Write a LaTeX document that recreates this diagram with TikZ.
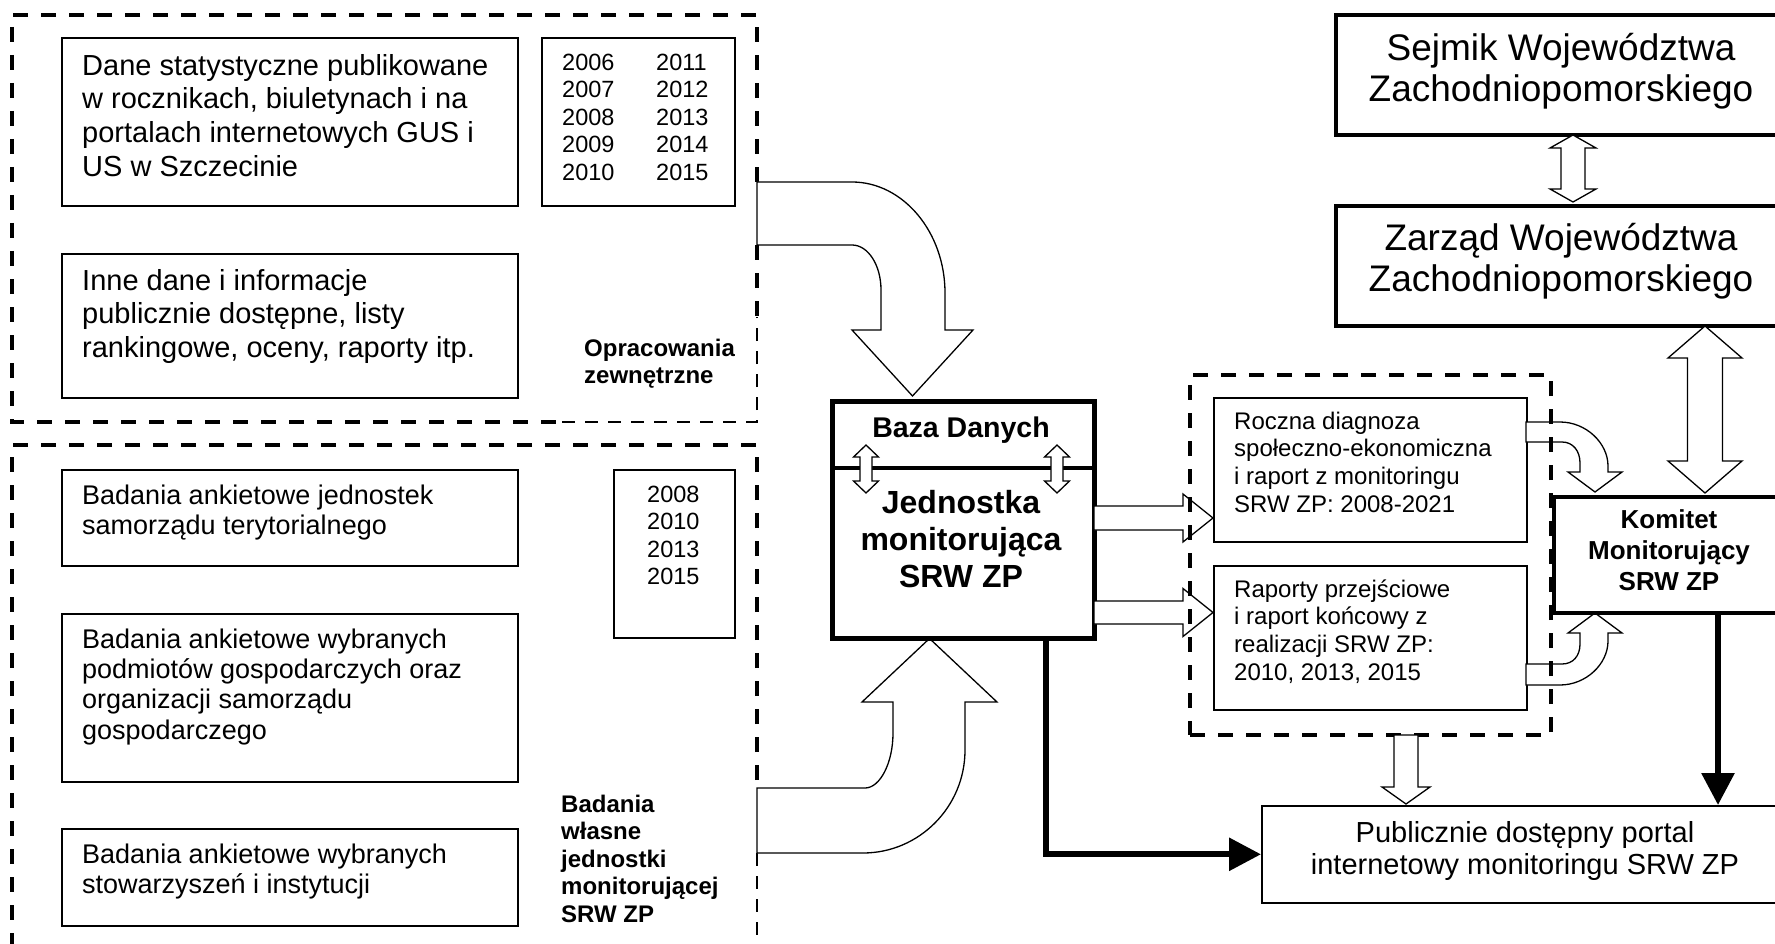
\documentclass[tikz,border=0pt]{standalone}
\usepackage{fontspec}
\setmainfont{Liberation Sans}
\usetikzlibrary{arrows.meta}
\newcommand\fntDane{\fontsize{29pt}{33.7pt}\selectfont}
\newcommand\fntYear{\fontsize{23.5pt}{27.5pt}\selectfont}
\newcommand\fntBad{\fontsize{27pt}{30.3pt}\selectfont}
\newcommand\fntLab{\fontsize{24pt}{27.5pt}\selectfont\bfseries}
\newcommand\fntBaza{\fontsize{28.5pt}{33pt}\selectfont\bfseries}
\newcommand\fntJedn{\fontsize{32pt}{37pt}\selectfont\bfseries}
\newcommand\fntRap{\fontsize{24pt}{27.7pt}\selectfont}
\newcommand\fntKom{\fontsize{26pt}{31.3pt}\selectfont\bfseries}
\newcommand\fntSejm{\fontsize{37pt}{41pt}\selectfont}
\newcommand\fntPort{\fontsize{29pt}{32pt}\selectfont}
\newcommand\vdarrow[6]{% x, ytop, ybot, head half width, shaft half width, head length
  \draw[barrow] (#1,#2) -- ({#1+#4},{#2+#6}) -- ({#1+#5},{#2+#6}) -- ({#1+#5},{#3-#6})
    -- ({#1+#4},{#3-#6}) -- (#1,#3) -- ({#1-#4},{#3-#6}) -- ({#1-#5},{#3-#6})
    -- ({#1-#5},{#2+#6}) -- ({#1-#4},{#2+#6}) -- cycle;}
\begin{document}
\begin{tikzpicture}[x=1pt,y=-1pt,
  box/.style={draw, line width=1.6pt, inner sep=0pt, anchor=north west},
  heavybox/.style={box, line width=4pt},
  txt/.style={inner sep=0pt, anchor=north west, align=left},
  ctxt/.style={inner sep=0pt, anchor=north, align=center},
  barrow/.style={draw, fill=white, line width=1.3pt, line join=miter},
  thickdash/.style={line width=4pt, dash pattern=on 15pt off 13pt},
  thindash/.style={line width=1.3pt, dash pattern=on 13pt off 10pt},
  blackarrow/.style={line width=6pt, line join=miter, -{Triangle[width=32pt,length=32pt]}}
]
\useasboundingbox (0,0) rectangle (1775,944);
\clip (0,0) rectangle (1775,944);

% ---- group: external sources ----
\draw[thickdash] (757,182) -- (757,15) -- (12,15) -- (12,422) -- (562,422);
\draw[thickdash] (757,245) -- (757,317);
\draw[thindash] (562,422) -- (757,422) -- (757,317);
% ---- group: own research ----
\draw[thickdash] (757,780) -- (757,445) -- (12,445) -- (12,960);
\draw[thindash] (757,853) -- (757,960);

% ---- left boxes ----
\node[box, minimum width=456pt, minimum height=168pt] (dane) at (61,37) {};
\node[box, minimum width=193pt, minimum height=168pt] (yrsA) at (541,37) {};
\node[box, minimum width=456pt, minimum height=144pt] (inne) at (61,253) {};
\node[box, minimum width=456pt, minimum height=96pt] (badA) at (61,469) {};
\node[box, minimum width=121pt, minimum height=168pt] (yrsB) at (613,469) {};
\node[box, minimum width=456pt, minimum height=168pt] (badB) at (61,613) {};
\node[box, minimum width=456pt, minimum height=97pt] (badC) at (61,828) {};

\node[txt, font=\fntDane] (tdane) at (82,51.4) {\strut Dane statystyczne publikowane\\w rocznikach, biuletynach i na\\portalach internetowych GUS i\\US w Szczecinie};
\node[txt, font=\fntYear] (tyA1) at (562,50.75) {\strut 2006\\2007\\2008\\2009\\2010};
\node[txt, font=\fntYear] (tyA2) at (656,50.75) {\strut 2011\\2012\\2013\\2014\\2015};
\node[txt, font=\fntDane] (tinne) at (82,266.4) {\strut Inne dane i informacje\\publicznie dostępne, listy\\rankingowe, oceny, raporty itp.};
\node[txt, font=\fntLab] (topr) at (584,336.75) {\strut Opracowania\\zewnętrzne};
\node[txt, font=\fntBad] (tbadA) at (82,482.8) {\strut Badania ankietowe jednostek\\samorządu terytorialnego};
\node[txt, font=\fntYear] (tyB) at (647,482.75) {\strut 2008\\2010\\2013\\2015};
\node[txt, font=\fntBad] (tbadB) at (82,626.8) {\strut Badania ankietowe wybranych\\podmiotów gospodarczych oraz\\organizacji samorządu\\gospodarczego};
\node[txt, font=\fntBad] (tbadC) at (82,841.8) {\strut Badania ankietowe wybranych\\stowarzyszeń i instytucji};
\node[txt, font=\fntLab] (twlasne) at (561,792.75) {\strut Badania\\własne\\jednostki\\monitorującej\\SRW ZP};

% ---- big curved arrows into the monitoring unit ----
\draw[barrow] (757,182) -- (852,182) .. controls (903,182) and (945,232) .. (945,293)
  -- (945,330) -- (973,330) -- (912.5,396) -- (852,330) -- (881,330) -- (881,290)
  .. controls (881,265) and (868,245) .. (852,245) -- (757,245) -- cycle;
\draw[barrow] (757,853) -- (863,853) .. controls (919,853) and (965,807) .. (965,750)
  -- (965,702) -- (997,702) -- (929.5,638.5) -- (862,702) -- (893,702) -- (893,733)
  .. controls (893,763) and (880,788) .. (865,788) -- (757,788) -- cycle;

% ---- monitoring unit ----
\node[box, line width=5pt, minimum width=262pt, minimum height=237pt] (central) at (830,399) {};
\draw[line width=4pt] (central.west |- 0,468) -- (central.east |- 0,468);
\node[inner sep=0pt, anchor=base, font=\fntBaza] (tbaza) at (961,437) {Baza Danych};
\node[ctxt, font=\fntJedn] (tjedn) at (961,487.1) {\strut Jednostka\\monitorująca\\SRW ZP};
\vdarrow{866}{445}{493}{12.5}{6}{12}
\vdarrow{1057}{445}{493}{12.5}{6}{12}

% ---- arrows to reports ----
\draw[barrow] (1094,506) -- (1183,506) -- (1183,494) -- (1213,518) -- (1183,542) -- (1183,530) -- (1094,530) -- cycle;
\draw[barrow] (1094,601) -- (1183,601) -- (1183,588.5) -- (1213,612.5) -- (1183,636.5) -- (1183,624) -- (1094,624) -- cycle;

% ---- reports ----
\node[box, minimum width=313pt, minimum height=144pt] (roczna) at (1213,397) {};
\node[box, minimum width=313pt, minimum height=144pt] (raporty) at (1213,565) {};
\node[txt, font=\fntRap] (troczna) at (1234,409.6) {\strut Roczna diagnoza\\społeczno-ekonomiczna\\i raport z monitoringu\\SRW ZP: 2008-2021};
\node[txt, font=\fntRap] (traporty) at (1234,577.6) {\strut Raporty przejściowe\\i raport końcowy z\\realizacji SRW ZP:\\2010, 2013, 2015};

% ---- curved arrows reports -> committee ----
\draw[barrow] (1526,422) -- (1560,422) .. controls (1586,422) and (1608,443) .. (1608,466)
  -- (1608,472) -- (1622,472) -- (1595,492) -- (1568,472) -- (1580,472) -- (1580,463)
  .. controls (1580,451) and (1573,442) .. (1562,442) -- (1526,442) -- cycle;
\draw[barrow] (1526,685) -- (1560,685) .. controls (1586,685) and (1608,664) .. (1608,641)
  -- (1608,633) -- (1622,633) -- (1595,613) -- (1568,633) -- (1580,633) -- (1580,644)
  .. controls (1580,656) and (1573,664) .. (1562,664) -- (1526,664) -- cycle;

\node[draw, thickdash, inner sep=0pt, anchor=north west, minimum width=361pt, minimum height=360pt] (reports) at (1188,373) {};

% ---- reports -> portal ----
\draw[barrow] (1394,735) -- (1418,735) -- (1418,787) -- (1430,787) -- (1406,804) -- (1382,787) -- (1394,787) -- cycle;

% ---- regional authorities ----
\node[heavybox, minimum width=454pt, minimum height=120pt] (sejmik) at (1334,13) {};
\node[heavybox, minimum width=454pt, minimum height=120pt] (zarzad) at (1334,204) {};
\node[ctxt, font=\fntSejm] (tsejmik) at (1561,31.3) {\strut Sejmik Województwa\\Zachodniopomorskiego};
\node[ctxt, font=\fntSejm] (tzarzad) at (1561,221.3) {\strut Zarząd Województwa\\Zachodniopomorskiego};
\vdarrow{1573}{135}{202}{23}{12}{13}
\vdarrow{1705}{326}{493}{37}{17.5}{32}

% ---- committee ----
\node[heavybox, minimum width=236pt, minimum height=116pt] (komitet) at (1552,495) {};
\node[ctxt, font=\fntKom] (tkomitet) at (1669,506.1) {\strut Komitet\\Monitorujący\\SRW ZP};

% ---- portal ----
\node[box, minimum width=528pt, minimum height=97pt] (portal) at (1261,805) {};
\node[ctxt, font=\fntPort] (tportal) at (1525,819.6) {\strut Publicznie dostępny portal\\internetowy monitoringu SRW ZP};

% ---- black connectors ----
\draw[blackarrow] (central.south -| 1046,0) |- (portal.west);
\draw[blackarrow] (komitet.south -| 1718,0) -- (portal.north -| 1718,0);
\end{tikzpicture}
\end{document}
